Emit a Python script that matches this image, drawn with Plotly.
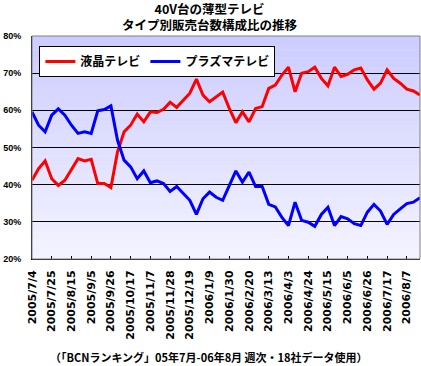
import plotly.graph_objects as go
import pandas as pd

# ---- data ----
start_date = "2005-07-04"
n_weeks = 60
lcd_share = [41.2, 44.3, 46.4, 41.6, 39.8, 41.2, 44.1, 47.0, 46.4, 46.8,
             40.3, 40.3, 39.2, 48.8, 54.2, 56.0, 59.0, 56.9, 59.6, 59.4,
             60.3, 62.2, 60.8, 62.6, 64.6, 68.4, 64.1, 62.3, 63.7, 64.9,
             60.5, 56.7, 59.6, 56.9, 60.5, 61.0, 65.9, 66.8, 69.5, 71.6,
             65.0, 70.0, 70.4, 71.6, 68.6, 66.6, 71.6, 69.1, 69.7, 70.9,
             71.4, 68.2, 65.7, 67.3, 70.9, 68.6, 67.3, 65.7, 65.2, 64.1]
pdp_share = [59.6, 56.0, 54.2, 58.7, 60.4, 58.7, 56.0, 53.8, 54.2, 53.8,
             59.9, 60.2, 61.2, 52.0, 46.6, 44.8, 41.6, 43.7, 40.5, 41.0,
             40.3, 38.2, 39.5, 37.6, 35.8, 32.0, 36.2, 38.0, 36.6, 35.8,
             39.8, 43.7, 40.7, 43.4, 39.5, 39.5, 34.7, 34.0, 31.2, 29.0,
             35.3, 30.4, 29.9, 28.8, 32.0, 33.9, 29.0, 31.4, 30.8, 29.5,
             29.0, 32.6, 34.7, 32.9, 29.3, 32.0, 33.5, 34.9, 35.3, 36.5]
tick_labels = ["2005/7/4", "2005/7/25", "2005/8/15", "2005/9/5", "2005/9/26",
               "2005/10/17", "2005/11/7", "2005/11/28", "2005/12/19", "2006/1/9",
               "2006/1/30", "2006/2/20", "2006/3/13", "2006/4/3", "2006/4/24",
               "2006/5/15", "2006/6/5", "2006/6/26", "2006/7/17", "2006/8/7"]
y_ticks = [20, 30, 40, 50, 60, 70, 80]
y_tick_text = ["20%", "30%", "40%", "50%", "60%", "70%", "80%"]
series_names = ["液晶テレビ", "プラズマテレビ"]
title_lines = ["40V台の薄型テレビ", "タイプ別販売台数構成比の推移"]
note_text = "（「BCNランキング」05年7月-06年8月 週次・18社データ使用）"

weeks = [f"{d.year}/{d.month}/{d.day}" for d in pd.date_range(start_date, periods=n_weeks, freq="7D")]

JP = "Noto Sans CJK JP"

fig = go.Figure()
fig.add_trace(go.Scatter(x=weeks, y=lcd_share, mode="lines", name=series_names[0],
                         line=dict(color="#FF0000", width=3)))
fig.add_trace(go.Scatter(x=weeks, y=pdp_share, mode="lines", name=series_names[1],
                         line=dict(color="#0000FF", width=3)))

# gradient background (style only)
n_strips = 50
top_c = (204, 204, 255)
bot_c = (243, 243, 255)
shapes = []
for k in range(n_strips):
    t = k / (n_strips - 1)
    c = tuple(round(top_c[j] + (bot_c[j] - top_c[j]) * t) for j in range(3))
    shapes.append(dict(type="rect", xref="paper", yref="paper", layer="below",
                       x0=0, x1=1, y1=1 - k / n_strips, y0=1 - (k + 1) / n_strips - 0.002,
                       line=dict(width=0), fillcolor=f"rgb{c}"))
shapes.append(dict(type="rect", xref="paper", yref="paper", x0=0, x1=1, y0=0, y1=1,
                   line=dict(color="#808080", width=1), layer="above"))

# plot area: top 36, bottom 259 -> height 223 px
def py(pix):
    return (259 - pix) / 223

annotations = [
    dict(text="<br>".join(title_lines), xref="paper", yref="paper", x=0.46, y=py(16.5),
         xanchor="center", yanchor="middle", showarrow=False,
         font=dict(family=JP, size=12.5, color="black", weight="bold")),
    dict(text=note_text, xref="paper", yref="paper", x=0.455, y=py(357),
         xanchor="center", yanchor="middle", showarrow=False,
         font=dict(family=JP, size=11, color="black", weight="bold")),
]

fig.update_layout(
    width=421, height=366,
    margin=dict(l=32, r=1, t=36, b=107, autoexpand=False),
    paper_bgcolor="white", plot_bgcolor="white",
    shapes=shapes,
    annotations=annotations,
    showlegend=True,
    legend=dict(orientation="h", x=0.019, y=py(46), xanchor="left", yanchor="top",
                bgcolor="white", bordercolor="black", borderwidth=1,
                font=dict(family=JP, size=12, color="black", weight="bold"),
                itemwidth=30, tracegroupgap=0),
    xaxis=dict(type="category", range=[0, n_weeks - 1], tickmode="array",
               tickvals=tick_labels, ticktext=tick_labels, tickangle=-90,
               ticks="inside", ticklen=3, tickcolor="black", automargin=False,
               showline=True, linecolor="black", linewidth=1, showgrid=False,
               tickfont=dict(family="DejaVu Sans", size=11, color="black", weight="bold"),
               ticklabelstandoff=6),
    yaxis=dict(range=[20, 80], tickmode="array", tickvals=y_ticks, ticktext=y_tick_text,
               showgrid=True, gridcolor="black", gridwidth=1, automargin=False,
               showline=True, linecolor="black", linewidth=1, zeroline=False,
               ticks="", ticklabelstandoff=8,
               tickfont=dict(family="Liberation Sans", size=9, color="black", weight="bold")),
)

fig.write_html("out.html", config={"displayModeBar": False},
               post_script="document.body.style.margin='0';")
